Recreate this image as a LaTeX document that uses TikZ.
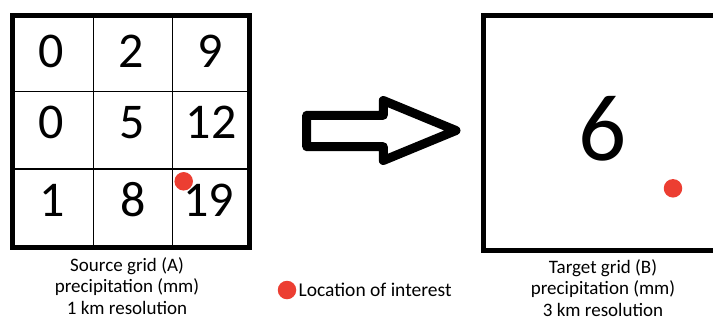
\documentclass[tikz,border=0pt]{standalone}
\usepackage{fontspec}
\setmainfont{Carlito}
\usetikzlibrary{positioning}
\definecolor{dotred}{RGB}{236,62,50}

\begin{document}
\begin{tikzpicture}[x=1pt, y=-1pt,
    cellnum/.style={font=\fontsize{50}{50}\selectfont, inner sep=0pt},
    bignum/.style={font=\fontsize{95}{95}\selectfont, inner sep=0pt},
    caption/.style={font=\fontsize{19}{21.5}\selectfont, align=center, inner sep=0pt, anchor=north},
    place/.style={circle, fill=dotred, inner sep=0pt, minimum size=18.5pt}]
    \useasboundingbox (0, 0) rectangle (713, 322);

    % source grid (A), 3 x 3 cells
    \draw[line width=1.3pt] (93.3, 15.5) -- (93.3, 247.5);
    \draw[line width=1.3pt] (172.3, 15.5) -- (172.3, 247.5);
    \draw[line width=1.3pt] (12.5, 91.7) -- (249.5, 91.7);
    \draw[line width=1.3pt] (12.5, 169) -- (249.5, 169);
    \draw[line width=5pt] (12.5, 15.5) rectangle (249.5, 247.5);

    \node[cellnum] (a11) at (51, 51) {0};
    \node[cellnum] (a12) at (131.5, 51) {2};
    \node[cellnum] (a13) at (210, 51) {9};
    \node[cellnum] (a21) at (51, 122.5) {0};
    \node[cellnum] (a22) at (132.5, 122.5) {5};
    \node[cellnum] (a23) at (211, 122.5) {12};
    \node[cellnum] (a31) at (52, 200) {1};
    \node[cellnum] (a32) at (133, 200) {8};
    \node[cellnum] (a33) at (208.5, 200) {19};

    \node[place] (locA) at (183.7, 181.3) {};

    \node[caption] (capA) at (127, 257) {Source grid (A)\\precipitation (mm)\\1 km resolution};

    % block arrow
    \draw[line width=9pt, line join=round]
        (306.7, 115.3) -- (383.3, 115.3) -- (383.3, 100.5) -- (456, 130.5)
        -- (383.3, 160.5) -- (383.3, 146.7) -- (306.7, 146.7) -- cycle;

    % target grid (B), one cell
    \draw[line width=5pt] (720, 15.3) -- (483.7, 15.3) -- (483.7, 250.7) -- (720, 250.7);
    \node[bignum] (b11) at (603, 128.3) {6};
    \node[place] (locB) at (673, 188.3) {};

    \node[caption] (capB) at (603, 259) {Target grid (B)\\precipitation (mm)\\3 km resolution};

    % legend
    \node[place] (key) at (287, 290) {};
    \node[font=\fontsize{19.5}{21.5}\selectfont, inner sep=0pt, right=2pt of key] (keytext) {Location of interest};

\end{tikzpicture}
\end{document}
